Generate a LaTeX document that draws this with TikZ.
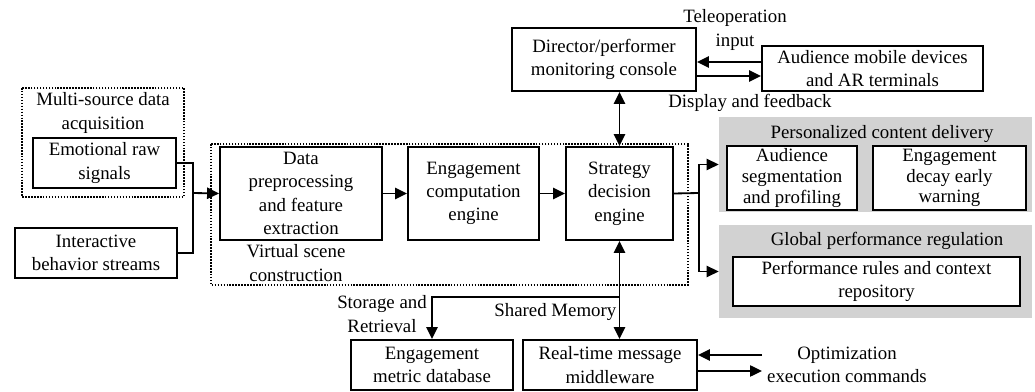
\documentclass[tikz,border=0pt]{standalone}
\usepackage{fontspec}
\setmainfont{Liberation Serif}
\usetikzlibrary{arrows.meta,positioning,calc}

\begin{document}
\begin{tikzpicture}[x=0.025cm, y=-0.025cm, font=\fontsize{13.4}{16.6}\selectfont, >={Triangle[length=3mm,width=2.8mm]},
  blk/.style={draw, fill=white, line width=1.3pt, align=center, inner sep=1pt, minimum height=1.25cm},
  tight/.style={font=\fontsize{13.4}{14.6}\selectfont},
  grp/.style={fill=gray!35, inner sep=0pt},
  lbl/.style={align=center, inner sep=1pt},
  dots/.style={densely dotted, line width=1.1pt},
  con/.style={line width=1.3pt}]
  \useasboundingbox (0,0) rectangle (1035,392);
  % grey groups on the right
  \node[grp, minimum width=7.825cm, minimum height=2.375cm] (pcd) at (875.5,164.5) {};
  \node[grp, minimum width=7.825cm, minimum height=2.325cm] (gpr) at (875.5,271.5) {};
  \node[lbl] (pcdt) at (882,134) {Personalized content delivery};
  \node[lbl] (gprt) at (887,241) {Global performance regulation};
  % acquisition side
  \draw[dots] (22,88) rectangle (184,197);
  \node[lbl] (acq) at (103,113) {Multi-source data\\acquisition};
  \node[blk, minimum width=3.575cm] (emo) at (104.5,163) {Emotional raw\\signals};
  \node[blk, minimum width=4.05cm] (inter) at (96,253) {Interactive\\behavior streams};
  % core processing chain
  \draw[dots] (211,144) rectangle (688,285);
  \node[blk, minimum width=4.05cm, minimum height=2.325cm] (prep) at (301,193.5) {Data\\preprocessing\\and feature\\extraction};
  \node[lbl] (vsc) at (296,263) {Virtual scene\\construction};
  \node[blk, minimum width=3.275cm, minimum height=2.325cm] (eng) at (473.5,193.5) {Engagement\\computation\\engine};
  \node[blk, minimum width=2.675cm, minimum height=2.325cm] (strat) at (619.5,193.5) {Strategy\\decision\\engine};
  % top
  \node[blk, minimum width=4.6cm, minimum height=1.575cm] (dir) at (604,59.5) {Director/performer\\monitoring console};
  \node[blk, minimum width=5.525cm, minimum height=1.125cm] (aud) at (872.5,68.5) {Audience mobile devices\\and AR terminals};
  \node[lbl] (tele) at (735,30) {Teleoperation\\input};
  \node[lbl] (disp) at (750,103) {Display and feedback};
  % right
  \node[blk, tight, minimum width=3.25cm, minimum height=1.6cm] (seg) at (792,178) {Audience\\segmentation\\and profiling};
  \node[blk, tight, minimum width=3.825cm, minimum height=1.6cm] (decay) at (949.5,178) {Engagement\\decay early\\warning};
  \node[blk, minimum width=7.175cm, minimum height=1.225cm] (rules) at (876.5,281.5) {Performance rules and context\\repository};
  % bottom
  \node[blk, minimum width=4.05cm] (db) at (432,365) {Engagement\\metric database};
  \node[blk, minimum width=4.35cm] (mw) at (610,365) {Real-time message\\middleware};
  \node[lbl] (opt) at (847,365) {Optimization\\execution commands};
  \node[lbl] (stor) at (382,314) {Storage and\\Retrieval};
  \node[lbl, anchor=east] (shm) at (618,312) {Shared Memory};

  \coordinate (j1) at (193,193);
  \coordinate (j2) at (699,193);
  \coordinate (j3) at (619.5,297);
  \coordinate (oin) at (762,355);
  \coordinate (oout) at (762,371);

  \draw[con] (emo.east) -| (j1);
  \draw[con] (inter.east) -| (j1);
  \draw[con,->] (j1) -- (prep.west);
  \draw[con,->] (prep) -- (eng);
  \draw[con,->] (eng) -- (strat);
  \draw[con] (strat.east) -- (j2);
  \draw[con,->] (j2) |- (pcd.west);
  \draw[con,->] (j2) |- (gpr.west);
  \draw[con,<->] (strat.north) -- (strat.north |- dir.south);
  \draw[con,->] ($(aud.west)+(0,-6.5)$) -- ($(dir.east)+(0,2.5)$);
  \draw[con,->] ($(dir.east)+(0,16.5)$) -- ($(aud.west)+(0,7.5)$);
  \draw[con,<->] (strat.south) -- (strat.south |- mw.north);
  \draw[con,->] (j3) -| (db.north);
  \draw[con,->] (oin) -- (mw.east |- oin);
  \draw[con,->] (mw.east |- oout) -- (oout);
\end{tikzpicture}
\end{document}
